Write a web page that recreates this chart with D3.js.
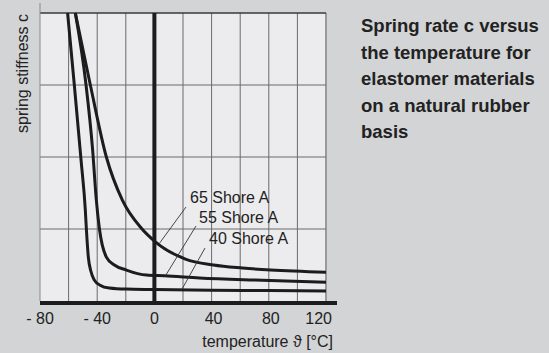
<!DOCTYPE html>
<html>
<head>
<meta charset="utf-8">
<script src="https://cdn.jsdelivr.net/npm/d3@7"></script>
<style>
  html, body { margin: 0; padding: 0; background: #d3d4d6; }
  svg { display: block; }
  text { font-family: "Liberation Sans", Arial, Helvetica, sans-serif; fill: #222; }
</style>
</head>
<body>
<svg id="chart" width="549" height="353"></svg>
<script>
// Temperature ticks and labels along the bottom axis
const xTicks = [-80, -40, 0, 40, 80, 120];
const xTickLabels = ["- 80", "- 40", "0", "40", "80", "120"];
const xGrid = [-60, -40, -20, 20, 40, 60, 80, 100, 120];
const yGrid = [1, 2, 3, 4];

// Relative spring stiffness vs temperature for each hardness grade
const temp40 = [-60.7, -56.0, -51.3, -48.3, -47.6, -46.2, -44.5, -42, -38, -31.5, -20, 0, 40, 80, 120];
const stiff40 = [4.0, 3.0, 1.96, 1.26, 1.01, 0.61, 0.42, 0.29, 0.22, 0.18, 0.165, 0.16, 0.15, 0.145, 0.14];

const temp55 = [-55.3, -47.8, -43.2, -40.6, -38.5, -33.6, -28, -19.6, -5.6, 7, 31.5, 70, 120];
const stiff55 = [4.0, 3.0, 2.10, 1.40, 1.01, 0.61, 0.50, 0.43, 0.36, 0.35, 0.32, 0.29, 0.26];

const temp65 = [-55.3, -44.8, -33.6, -22.4, -9.1, 0, 21.7, 41.3, 61.6, 81.3, 120];
const stiff65 = [4.0, 3.0, 2.0, 1.40, 1.01, 0.833, 0.583, 0.50, 0.458, 0.43, 0.40];

const seriesNames = ["40 Shore A", "55 Shore A", "65 Shore A"];

const titleLines = [
  "Spring rate c versus",
  "the temperature for",
  "elastomer materials",
  "on a natural rubber",
  "basis"
];

const svg = d3.select("#chart");
const plotL = 40, plotR = 326, plotT = 13, plotB = 301;

const x = d3.scaleLinear().domain([-80, 120]).range([plotL, plotR]);
const y = d3.scaleLinear().domain([0, 4]).range([plotB, plotT]);

// Plot background
svg.append("rect")
  .attr("x", plotL).attr("y", plotT)
  .attr("width", plotR - plotL).attr("height", plotB - plotT)
  .attr("fill", "#ececee");

svg.append("clipPath").attr("id", "plotClip")
  .append("rect")
  .attr("x", plotL).attr("y", plotT - 1)
  .attr("width", plotR - plotL).attr("height", plotB - plotT + 1);

// Grid
const grid = svg.append("g");
grid.selectAll("line.v").data(xGrid).join("line")
  .attr("x1", d => x(d)).attr("x2", d => x(d))
  .attr("y1", plotT).attr("y2", plotB)
  .attr("stroke", d => d === 120 ? "#9a9a9c" : "#6a6a6a")
  .attr("stroke-width", d => d === 120 ? 2 : 1);
grid.selectAll("line.h").data(yGrid).join("line")
  .attr("x1", plotL).attr("x2", plotR)
  .attr("y1", d => y(d)).attr("y2", d => y(d))
  .attr("stroke", d => d === 4 ? "#3a3a3a" : "#6a6a6a")
  .attr("stroke-width", d => d === 4 ? 1.5 : 1);

// Left axis line
svg.append("line")
  .attr("x1", plotL).attr("x2", plotL)
  .attr("y1", 3).attr("y2", plotB)
  .attr("stroke", "#8a8a8a").attr("stroke-width", 1);

// Zero-degree line
svg.append("line")
  .attr("x1", x(0)).attr("x2", x(0))
  .attr("y1", plotT).attr("y2", plotB)
  .attr("stroke", "#1c1c1c").attr("stroke-width", 4);

// Curves
const line = d3.line()
  .x(d => x(d[0])).y(d => y(d[1]))
  .curve(d3.curveMonotoneX);

const curves = [
  d3.zip(temp40, stiff40),
  d3.zip(temp55, stiff55),
  d3.zip(temp65, stiff65)
];

svg.append("g").attr("clip-path", "url(#plotClip)")
  .selectAll("path").data(curves).join("path")
  .attr("d", line)
  .attr("fill", "none")
  .attr("stroke", "#1c1c1c")
  .attr("stroke-width", 3);

// Bottom axis
svg.append("line")
  .attr("x1", plotL).attr("x2", 337)
  .attr("y1", 303).attr("y2", 303)
  .attr("stroke", "#1c1c1c").attr("stroke-width", 4);

svg.append("g").selectAll("text").data(xTicks).join("text")
  .attr("x", (d, i) => i === xTicks.length - 1 ? x(d) + 6 : x(d) + (d > 0 ? 2 : 0))
  .attr("y", 324)
  .attr("text-anchor", (d, i) => i === xTicks.length - 1 ? "end" : "middle")
  .attr("font-size", 16)
  .text((d, i) => xTickLabels[i]);

svg.append("text")
  .attr("x", 333).attr("y", 347)
  .attr("text-anchor", "end")
  .attr("font-size", 16)
  .text("temperature ϑ [°C]");

svg.append("text")
  .attr("transform", "translate(28,14) rotate(-90)")
  .attr("text-anchor", "end")
  .attr("font-size", 16)
  .text("spring stiffness c");

// Curve labels with leader lines down to each curve
const labelSpecs = [
  { name: seriesNames[2], t: 3.5,  v: 0.80, tx: 190, ty: 203, lx: 186, ly: 207 },
  { name: seriesNames[1], t: 7.7,  v: 0.35, tx: 199, ty: 223, lx: 196, ly: 226 },
  { name: seriesNames[0], t: 18.9, v: 0.15, tx: 209, ty: 244, lx: 205, ly: 248 }
];
const lab = svg.append("g");
lab.selectAll("line").data(labelSpecs).join("line")
  .attr("x1", d => d.lx).attr("y1", d => d.ly)
  .attr("x2", d => x(d.t)).attr("y2", d => y(d.v))
  .attr("stroke", "#333").attr("stroke-width", 0.9);
lab.selectAll("text").data(labelSpecs).join("text")
  .attr("x", d => d.tx).attr("y", d => d.ty)
  .attr("font-size", 16)
  .text(d => d.name);

// Caption
svg.append("g").selectAll("text").data(titleLines).join("text")
  .attr("x", 361)
  .attr("y", (d, i) => 32 + i * 26.5)
  .attr("font-size", 18.5)
  .attr("font-weight", "bold")
  .text(d => d);
</script>
</body>
</html>
